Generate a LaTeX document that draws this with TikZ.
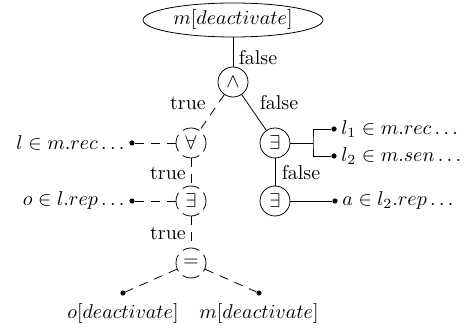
\documentclass[tikz,border=0pt]{standalone}
\usetikzlibrary{shapes.geometric}
\begin{document}
\begin{tikzpicture}[x=0.5pt,y=-0.5pt,
  op/.style={circle,draw,minimum size=15pt,inner sep=0pt},
  dop/.style={op,dash pattern=on 8.75pt off 3pt,dash phase=4.375pt},
  dotnode/.style={circle,fill,inner sep=0pt,minimum size=2.6pt},
  lbl/.style={inner sep=1pt},
  dline/.style={dash pattern=on 4.5pt off 3.5pt}]
\useasboundingbox (0,0) rectangle (466,331);
% main nodes
\node[ellipse,draw,minimum width=90pt,minimum height=17pt,inner sep=0pt] (top) at (233,20) {$m[deactivate]$};
\node[op] (and) at (233,82) {$\wedge$};
\node[dop] (fa) at (191,143) {$\forall$};
\node[op] (ex1) at (275,143) {$\exists$};
\node[dop] (ex2) at (191,201) {$\exists$};
\node[op] (ex3) at (275,201) {$\exists$};
\node[dop] (eq) at (191,263) {$=$};
% dots
\node[dotnode] (d1) at (132,143) {};
\node[dotnode] (d2) at (132,201) {};
\node[dotnode] (d3) at (123,293) {};
\node[dotnode] (d4) at (259,293) {};
\node[dotnode] (d5) at (334,129) {};
\node[dotnode] (d6) at (334,156) {};
\node[dotnode] (d7) at (335,201) {};
\coordinate (fork) at (313,143);
% dot labels
\node[left,inner sep=2pt] (t1) at (d1.west) {$l\in m.rec\ldots$};
\node[left,inner sep=2pt] (t2) at (d2.west) {$o\in l.rep\ldots$};
\node[below] (t3) at (d3.south) {$o[deactivate]$};
\node[below] (t4) at (d4.south) {$m[deactivate]$};
\node[right,inner sep=2pt] (t5) at (d5.east) {$l_1\in m.rec\ldots$};
\node[right,inner sep=2pt] (t6) at (d6.east) {$l_2\in m.sen\ldots$};
\node[right,inner sep=2pt] (t7) at (d7.east) {$a\in l_2.rep\ldots$};
% edges
\draw (top) -- (and);
\draw[dline] (and) -- (fa);
\draw (and) -- (ex1);
\draw[dline] (fa) -- (d1);
\draw[dline] (fa) -- (ex2);
\draw[dline] (ex2) -- (d2);
\draw[dline] (ex2) -- (eq);
\draw[dline] (eq) -- (d3);
\draw[dline] (eq) -- (d4);
\draw (ex1) -- (fork);
\draw (d5) -| (fork) |- (d6);
\draw (ex1) -- (ex3);
\draw (ex3) -- (d7);
% edge labels
\node[lbl] (e1) at (258,58) {false};
\node[lbl] (e2) at (188,103) {true};
\node[lbl] (e3) at (279,103) {false};
\node[lbl] (e4) at (168,173) {true};
\node[lbl] (e5) at (301,173) {false};
\node[lbl] (e6) at (168,233) {true};
\end{tikzpicture}
\end{document}
